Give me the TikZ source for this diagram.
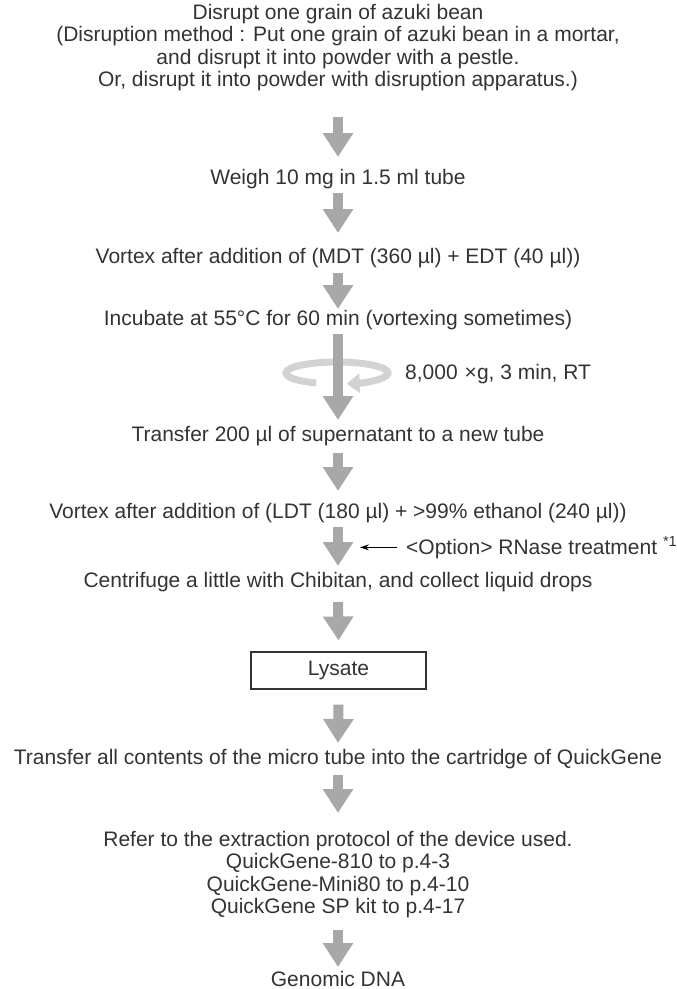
\documentclass[tikz,border=0pt]{standalone}
\usepackage{fontspec}
\setmainfont{Liberation Sans}
\usetikzlibrary{arrows.meta}
\definecolor{txt}{HTML}{333333}
\definecolor{flowgray}{HTML}{A8A8A8}
\definecolor{spingray}{HTML}{D3D3D3}
\begin{document}
\begin{tikzpicture}[x=1pt,y=-1pt,
  lbl/.style={anchor=base, inner sep=0pt, text=txt, font=\fontsize{21}{22.5}\selectfont},
  flow/.style={draw=flowgray, line width=10pt, -{Triangle[length=24pt,width=29pt]}},
  spinarrow/.style={draw=spingray, line width=7pt, -{Triangle[length=13pt,width=19pt]}},
  optarrow/.style={draw=black, line width=1.2pt, -{Stealth[length=9pt,width=6pt]}},
  stepframe/.style={draw=txt, line width=1.1pt, inner sep=0pt, minimum width=175pt,
    minimum height=37pt, text=txt, font=\fontsize{21}{22.5}\selectfont}]
\useasboundingbox (0,0) rectangle (677,989);

% steps
\node[lbl] (d1) at (338,19)   {Disrupt one grain of azuki bean};
\node[lbl] (d2) at (338,41.5) {(Disruption method : Put one grain of azuki bean in a mortar,};
\node[lbl] (d3) at (338,64)   {and disrupt it into powder with a pestle.};
\node[lbl] (d4) at (338,86.5) {Or, disrupt it into powder with disruption apparatus.)};
\node[lbl] (weigh) at (338,184) {Weigh 10 mg in 1.5 ml tube};
\node[lbl] (mdt) at (338,263) {Vortex after addition of (MDT (360 µl) + EDT (40 µl))};
\node[lbl] (incub) at (338,325) {Incubate at 55°C for 60 min (vortexing sometimes)};
\node[lbl, anchor=base west] (spin) at (405,379) {8,000\hspace{7pt}×g, 3 min, RT};
\node[lbl] (tr200) at (338,441) {Transfer 200 µl of supernatant to a new tube};
\node[lbl] (ldt) at (338,518) {Vortex after addition of (LDT (180 µl) + >99\% ethanol (240 µl))};
\node[lbl, anchor=base west] (opt) at (406,554) {<Option> RNase treatment \textsuperscript{*1}};
\node[lbl] (chib) at (338,587) {Centrifuge a little with Chibitan, and collect liquid drops};
\node[stepframe] (lys) at (338.5,670.5) {Lysate};
\node[lbl] (trall) at (338,764) {Transfer all contents of the micro tube into the cartridge of QuickGene};
\node[lbl] (r1) at (338,846)   {Refer to the extraction protocol of the device used.};
\node[lbl] (r2) at (338,868.5) {QuickGene-810 to p.4-3};
\node[lbl] (r3) at (338,891)   {QuickGene-Mini80 to p.4-10};
\node[lbl] (r4) at (338,913.5) {QuickGene SP kit to p.4-17};
\node[lbl] (dna) at (338,986) {Genomic DNA};

% centrifugation ring, drawn under the flow arrow
\coordinate (spinc) at (337,373);
\draw[spinarrow] (spinc) ++(114:51 and 11)
  arc[start angle=114, end angle=439, x radius=51, y radius=11];

% flow arrows
\draw[flow] ([yshift=-30.5pt]d4.base) -- ([yshift=27pt]weigh.base);
\draw[flow] ([yshift=-9pt]weigh.base) -- ([yshift=30pt]mdt.base);
\draw[flow] ([yshift=-10pt]mdt.base) -- ([yshift=16pt]incub.base);
\draw[flow] ([yshift=-9pt]incub.base) -- ([yshift=21pt]tr200.base);
\draw[flow] ([yshift=-12pt]tr200.base) -- ([yshift=27pt]ldt.base);
\draw[flow] ([yshift=-9pt]ldt.base) -- ([yshift=21pt]chib.base);
\draw[flow] ([yshift=-15pt]chib.base) -- ([yshift=11pt]lys.north);
\draw[flow] ([yshift=-15pt]lys.south) -- ([yshift=21pt]trall.base);
\draw[flow] ([yshift=-11pt]trall.base) -- ([yshift=33pt]r1.base);
\draw[flow] ([yshift=-16.5pt]r4.base) -- ([yshift=19pt]dna.base);

% optional step pointer
\coordinate (optin) at (360,0);
\draw[optarrow] ([xshift=-9pt]opt.west) -- (opt.west -| optin);
\end{tikzpicture}
\end{document}
